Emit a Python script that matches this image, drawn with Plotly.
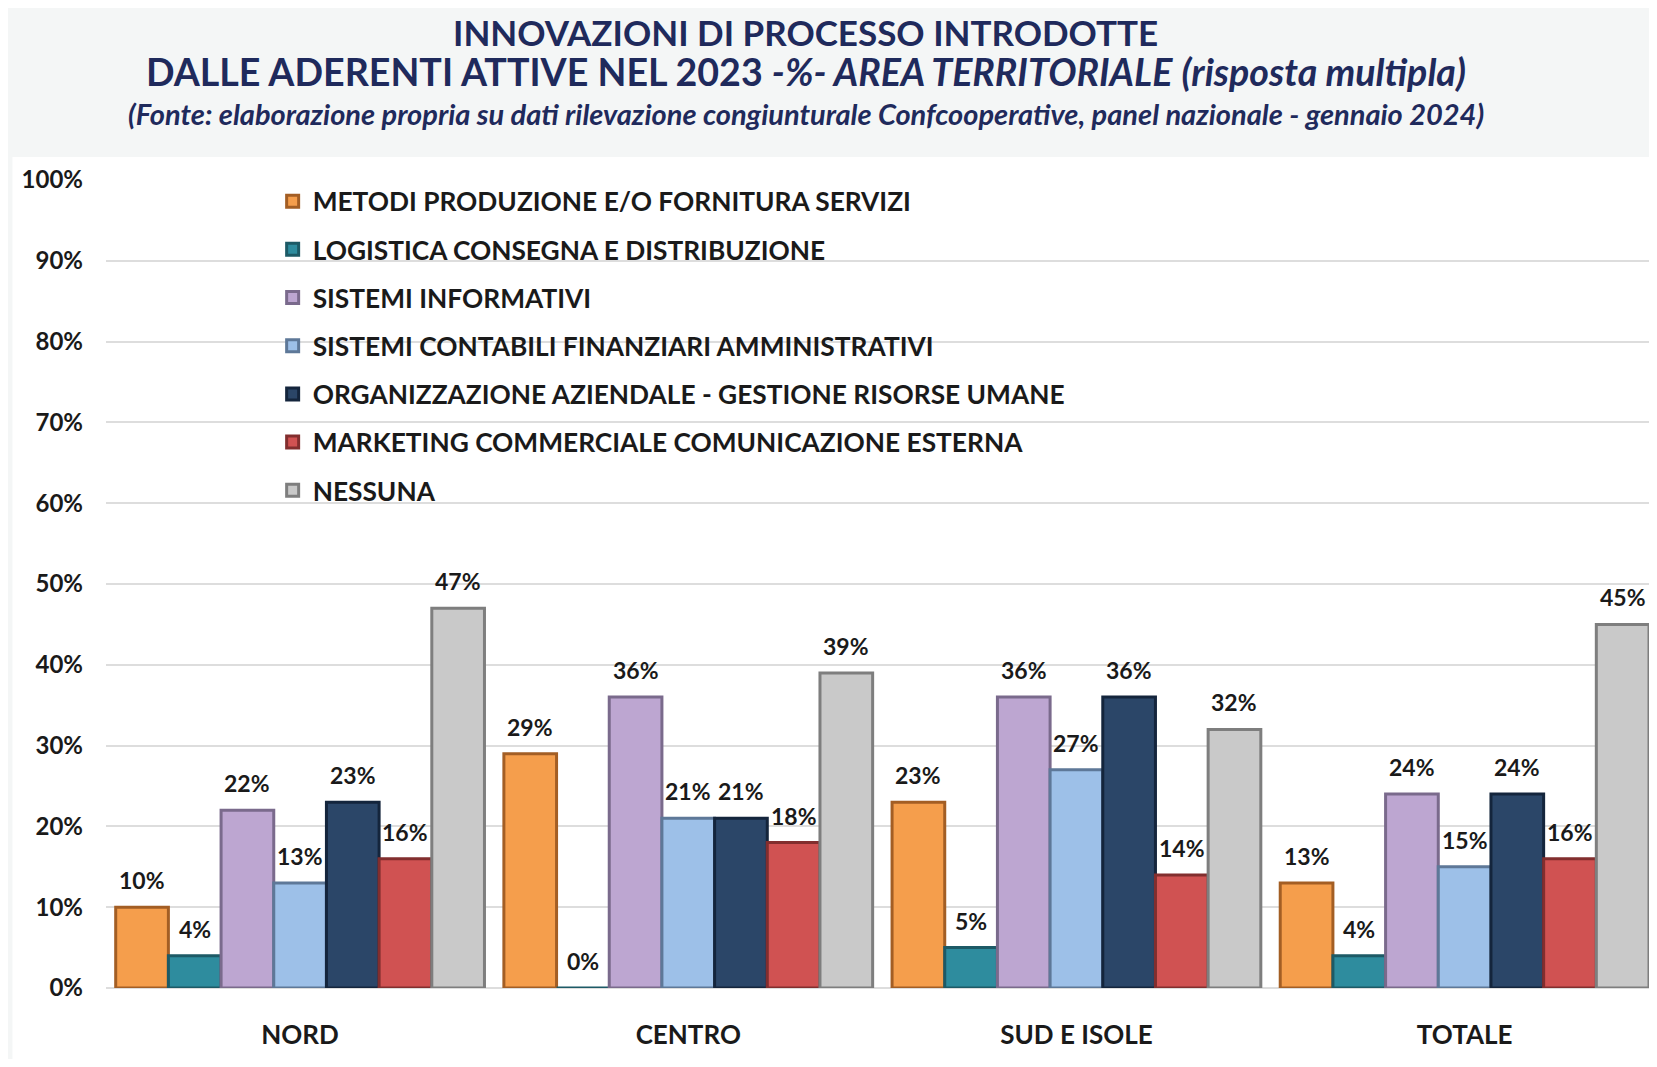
import plotly.graph_objects as go

categories = ["NORD", "CENTRO", "SUD E ISOLE", "TOTALE"]
series_names = [
    "METODI PRODUZIONE E/O FORNITURA SERVIZI",
    "LOGISTICA CONSEGNA E DISTRIBUZIONE",
    "SISTEMI INFORMATIVI",
    "SISTEMI CONTABILI FINANZIARI AMMINISTRATIVI",
    "ORGANIZZAZIONE AZIENDALE - GESTIONE RISORSE UMANE",
    "MARKETING COMMERCIALE COMUNICAZIONE ESTERNA",
    "NESSUNA",
]
metodi = [0.10, 0.29, 0.23, 0.13]
logistica = [0.04, 0.00, 0.05, 0.04]
informativi = [0.22, 0.36, 0.36, 0.24]
contabili = [0.13, 0.21, 0.27, 0.15]
organizzazione = [0.23, 0.21, 0.36, 0.24]
marketing = [0.16, 0.18, 0.14, 0.16]
nessuna = [0.47, 0.39, 0.32, 0.45]
y_ticks = [0, 0.1, 0.2, 0.3, 0.4, 0.5, 0.6, 0.7, 0.8, 0.9, 1.0]

series_values = [metodi, logistica, informativi, contabili, organizzazione, marketing, nessuna]
face_colors = ["#F59E4C", "#2E8C9E", "#BDA6D1", "#9DC0E8", "#2B4668", "#D05252", "#C9C9C9"]
edge_colors = ["#A35E24", "#1D5A66", "#7A6A8C", "#5E7898", "#14253C", "#822E2E", "#7E7E7E"]

FONT = "Lato, Roboto, sans-serif"
NAVY = "#1F2A5C"
BARGAP = 0.05
n_series = len(series_values)
slot = (1 - BARGAP) / n_series

fig = go.Figure()
annotations = []
for i, (name, vals) in enumerate(zip(series_names, series_values)):
    fig.add_trace(go.Bar(
        x=categories, y=vals, name=name,
        legendgroup=f"g{i}",
        marker=dict(color=face_colors[i], line=dict(color=edge_colors[i], width=3)),
    ))
    # value labels placed above each bar, centred on the bar's slot in the group
    for j, v in enumerate(vals):
        annotations.append(dict(
            xref="x", yref="y", x=j + (i - (n_series - 1) / 2) * slot, y=v,
            text=f"<b>{v:.0%}</b>", showarrow=False, xanchor="center", yanchor="middle",
            yshift=27, font=dict(family=FONT, size=23, color="#1a1a1a"),
        ))

annotations += [
    dict(xref="paper", yref="paper", x=0.4536, y=1.2116, xanchor="center", yanchor="top",
         text="<b>INNOVAZIONI DI PROCESSO INTRODOTTE</b>", showarrow=False,
         font=dict(family=FONT, size=35, color=NAVY)),
    dict(xref="paper", yref="paper", x=0.4536, y=1.1338, xanchor="center", yanchor="middle",
         text="<b>DALLE ADERENTI ATTIVE NEL 2023 <i>-%- AREA TERRITORIALE</i> <i>(risposta multipla)</i></b>",
         showarrow=False, font=dict(family=FONT, size=37.6, color=NAVY)),
    dict(xref="paper", yref="paper", x=0.4536, y=1.0828, xanchor="center", yanchor="middle",
         text="<b><i>(Fonte: elaborazione propria su dati rilevazione congiunturale Confcooperative, panel nazionale - gennaio 2024)</i></b>",
         showarrow=False, font=dict(family=FONT, size=29, color=NAVY)),
]

fig.update_layout(
    width=1641, height=1051,
    paper_bgcolor="#F4F6F6", plot_bgcolor="rgba(0,0,0,0)",
    margin=dict(l=98, r=0, t=172, b=71),
    barmode="group", bargap=BARGAP, bargroupgap=0,
    font=dict(family=FONT, color="#1a1a1a"),
    showlegend=True,
    legend=dict(
        x=0.108, y=1.003, xanchor="left", yanchor="top",
        bgcolor="rgba(0,0,0,0)",
        font=dict(family=FONT, size=26.3, color="#1a1a1a", weight="bold"),
        tracegroupgap=11, itemwidth=30,
    ),
    xaxis=dict(
        range=[-0.5, 3.475], showgrid=False, showline=False, zeroline=False,
        tickfont=dict(family=FONT, size=26, color="#1a1a1a", weight="bold"),
        ticks="", ticklabelstandoff=29,
    ),
    yaxis=dict(
        range=[0, 1.0], tickvals=y_ticks, tickformat=".0%",
        showgrid=True, gridcolor="#DDDDDD", gridwidth=2, zeroline=True,
        zerolinecolor="#DDDDDD", zerolinewidth=2, showline=False,
        tickfont=dict(family=FONT, size=24, color="#1a1a1a", weight="bold"),
        ticklabelstandoff=22,
    ),
    shapes=[dict(type="rect", xref="paper", yref="paper", layer="below",
                 x0=-0.0606, x1=1.0, y0=-0.2, y1=1.0285,
                 fillcolor="white", line=dict(width=0))],
    annotations=annotations,
)

fig.write_html("out.html")
